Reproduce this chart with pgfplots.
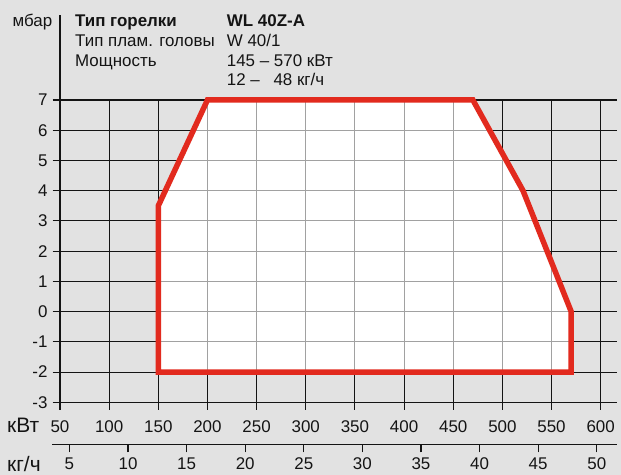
\documentclass[border=0pt]{standalone}
\usepackage{fontspec}
\setmainfont{Liberation Sans}
\usepackage{pgfplots}
\pgfplotsset{compat=1.18}
\definecolor{bggray}{RGB}{226,226,226}
\definecolor{wred}{RGB}{226,42,30}
\definecolor{gridk}{RGB}{20,20,20}
\pgfplotsset{
  maingeom/.style={
    at={(60bp,72.7bp)}, anchor=south west,
    scale only axis, width=556.7bp, height=302.3bp,
    xmin=50, xmax=616.3, ymin=-3, ymax=7, clip=false,
  },
}
\pgfplotstableread{
x y
150 -2
150 3.5
200 7
470 7
521 4
570 0
570 -2
}\envelope
\begin{document}
\begin{tikzpicture}
\fill[bggray] (0,0) rectangle (621bp,475bp);
\useasboundingbox (0,0) rectangle (621bp,475bp);
\begin{axis}[
  maingeom,
  axis on top,
  axis lines*=left,
  axis line style={gridk, line width=1.1bp},
  xtick={50,100,...,600},
  xticklabels={50,100,150,200,250,300,350,400,450,500,550,600},
  ytick={-3,-2,...,7},
  yticklabels={-3,-2,-1,0,1,2,3,4,5,6,7},
  grid=major,
  major grid style={gridk, line width=1.1bp},
  tick align=outside,
  major tick length=7.5bp,
  tick style={gridk, line width=1.1bp},
  ticklabel style={font=\fontsize{17}{20}\selectfont, text=gridk},
  xticklabel style={anchor=base, yshift=-23bp},
  yticklabel style={xshift=-1.5bp},
]
\addplot[fill=white, draw=none] table {\envelope} -- cycle;
\draw[gridk, line width=1.1bp] (axis cs:50,6.9) -- (axis cs:50,9.82);
\end{axis}
\begin{axis}[maingeom, hide axis]
\addplot[fill=white, fill opacity=0.6, draw=none] table {\envelope} -- cycle;
\addplot[wred, line width=5.5bp] table {\envelope} -- cycle;
\end{axis}
\begin{axis}[
  at={(60bp,30.7bp)}, anchor=south west,
  scale only axis, width=556.7bp, height=20bp,
  xmin=4.1946, xmax=51.703, ymin=0, ymax=1,
  axis x line*=bottom, axis y line=none,
  x axis line style={gridk, line width=1.1bp, shorten <=-8bp},
  xtick={5,10,...,50},
  xticklabels={5,10,15,20,25,30,35,40,45,50},
  ytick=\empty,
  tick align=outside, major tick length=8bp,
  tick style={gridk, line width=1.1bp},
  ticklabel style={font=\fontsize{17}{20}\selectfont, text=gridk},
  xticklabel style={anchor=base, yshift=-17.5bp},
]
\end{axis}
\begin{scope}[every node/.style={inner sep=0pt, text=gridk}, font=\fontsize{17}{20}\selectfont]
\node[anchor=base east] at (52.5bp,448.3bp) {мбар};
\node[anchor=base west, font=\fontsize{17}{20}\selectfont\bfseries] at (75bp,448.3bp) {Тип горелки};
\node[anchor=base west] at (75bp,428.3bp) {Тип плам. головы};
\node[anchor=base west] at (75bp,408.3bp) {Мощность};
\node[anchor=base west, font=\fontsize{17}{20}\selectfont\bfseries] at (226.7bp,448.3bp) {WL 40Z-A};
\node[anchor=base west] at (226.7bp,428.3bp) {W 40/1};
\node[anchor=base west] at (226.7bp,408.3bp) {145 – 570 кВт};
\node[anchor=base west] at (226.7bp,389bp) {12 –};
\node[anchor=base west] at (273.3bp,389bp) {48 кг/ч};
\node[anchor=base west, font=\fontsize{21}{24}\selectfont] at (7bp,42bp) {кВт};
\node[anchor=base west, font=\fontsize{21}{24}\selectfont] at (7bp,4bp) {кг/ч};
\end{scope}
\end{tikzpicture}
\end{document}
